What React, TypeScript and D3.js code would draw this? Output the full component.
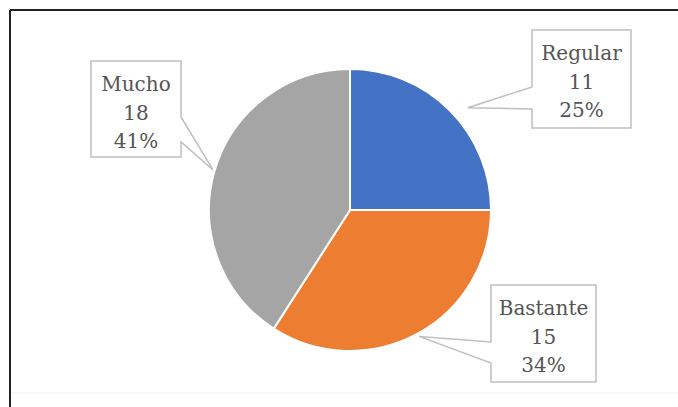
import React from "react";
import * as d3 from "d3";

const categories = ["Regular", "Bastante", "Mucho"];
const values = [11, 15, 18];
const percents = ["25%", "34%", "41%"];
const colors = ["#4472C4", "#ED7D31", "#A5A5A5"];

// label box layout (x, y, w, h), pointer side and base ys, tip radius
const boxes = [
  { x: 532, y: 30, w: 99, h: 98, side: "left", y1: 87, y2: 109, tipR: 156, tipDa: 0.07 },
  { x: 491, y: 285, w: 105, h: 97, side: "left", y1: 342, y2: 363, tipR: 144, tipDa: 0 },
  { x: 91, y: 61, w: 90, h: 96, side: "right", y1: 117, y2: 142, tipR: 143, tipDa: 0 },
];

const W = 678;
const H = 407;
const cx = 350;
const cy = 210;
const R = 141;

export default function App() {
  const data = categories.map((c, i) => ({ c, v: values[i], p: percents[i], i }));
  const pie = d3.pie<any>().sort(null).value((d) => d.v);
  const arcs = pie(data);
  const arc = d3.arc<any>().innerRadius(0).outerRadius(R);

  return (
    <svg width={W} height={H} style={{ position: "absolute", left: 0, top: 0 }}>
      <rect width={W} height={H} fill="#fff" />
      <line x1={10} y1={10} x2={W} y2={10} stroke="#222" strokeWidth={2} />
      <line x1={10} y1={10} x2={10} y2={H} stroke="#222" strokeWidth={2} />
      <line x1={11} y1={393} x2={W} y2={393} stroke="#f2f2f2" strokeWidth={1} />
      <g transform={`translate(${cx},${cy})`}>
        {arcs.map((a, i) => (
          <path key={i} d={arc(a) as string} fill={colors[i]} stroke="#fff" strokeWidth={2} />
        ))}
      </g>
      {arcs.map((a, i) => {
        const b = boxes[i];
        const mid = (a.startAngle + a.endAngle) / 2 + b.tipDa;
        const tx = cx + Math.sin(mid) * b.tipR;
        const ty = cy - Math.cos(mid) * b.tipR;
        let d: string;
        if (b.side === "left") {
          d = `M${b.x},${b.y}H${b.x + b.w}V${b.y + b.h}H${b.x}V${b.y2}L${tx},${ty}L${b.x},${b.y1}Z`;
        } else {
          d = `M${b.x},${b.y}H${b.x + b.w}V${b.y1}L${tx},${ty}L${b.x + b.w},${b.y2}V${b.y + b.h}H${b.x}Z`;
        }
        const mx = b.x + b.w / 2;
        const lines = [a.data.c, String(a.data.v), a.data.p];
        return (
          <g key={"l" + i}>
            <path d={d} fill="#fff" stroke="#BFBFBF" strokeWidth={1.5} />
            {lines.map((t, j) => (
              <text
                key={j}
                x={mx}
                y={b.y + 30 + j * 28.5}
                textAnchor="middle"
                fontFamily="DejaVu Serif"
                fontSize={20}
                fill="#555"
              >
                {t}
              </text>
            ))}
          </g>
        );
      })}
    </svg>
  );
}
